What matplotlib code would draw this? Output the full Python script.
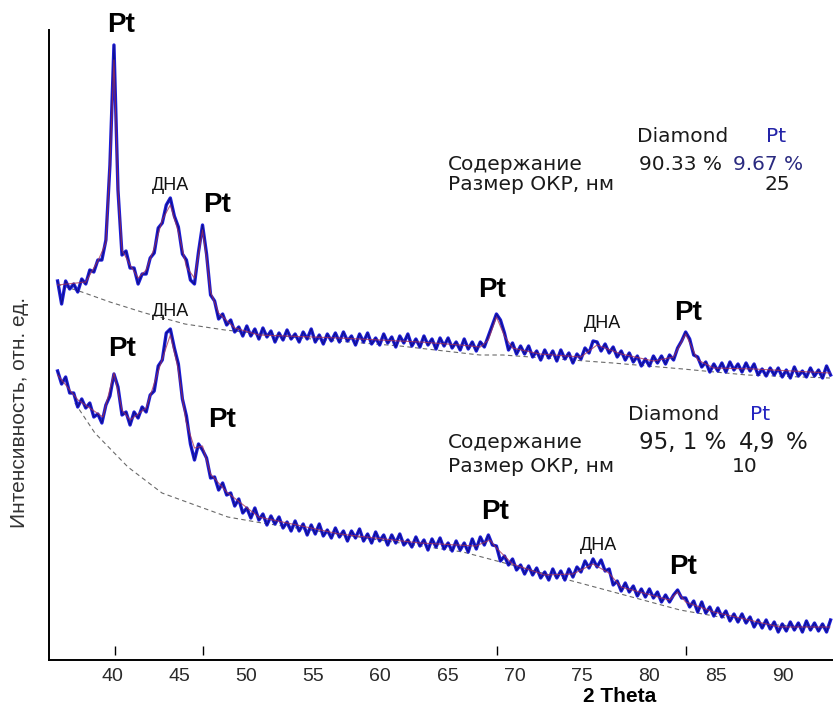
import numpy as np
import matplotlib
matplotlib.use("Agg")
import matplotlib.pyplot as plt

plt.rcParams['font.family'] = ['Liberation Sans', 'DejaVu Sans']

W, H = 833, 710

# ---- data (2 theta grid start/step, intensities in arbitrary units) ----
theta_start = 35.95
theta_step = 0.3

top_counts = [
    379, 356, 379, 371, 376, 368, 381, 376, 390, 388,
    400, 400, 420, 495, 615, 470, 405, 409, 392, 392,
    376, 386, 386, 402, 407, 432, 437, 455, 462, 444,
    433, 406, 400, 380, 376, 408, 435, 406, 365, 359,
    341, 346, 335, 340, 328, 333, 324, 334, 324, 331,
    321, 332, 323, 329, 318, 327, 320, 330, 321, 326,
    318, 328, 321, 331, 318, 325, 316, 326, 319, 327,
    318, 328, 319, 324, 315, 326, 318, 327, 316, 322,
    315, 326, 317, 323, 313, 324, 317, 326, 314, 321,
    313, 324, 315, 321, 311, 322, 314, 322, 312, 318,
    310, 321, 311, 318, 309, 318, 313, 324, 335, 346,
    340, 327, 310, 317, 306, 314, 306, 314, 303, 309,
    300, 310, 302, 309, 299, 310, 301, 307, 297, 306,
    301, 312, 307, 319, 318, 309, 316, 307, 313, 303,
    309, 300, 307, 298, 304, 294, 301, 294, 304, 297,
    304, 296, 305, 300, 312, 319, 328, 321, 305, 303,
    293, 298, 288, 296, 289, 297, 288, 298, 290, 296,
    288, 297, 289, 296, 285, 291, 284, 292, 285, 292,
    283, 290, 282, 293, 284, 289, 283, 292, 284, 290,
    282, 294, 285,
]

bottom_counts = [
    289, 276, 283, 267, 267, 253, 261, 252, 257, 243,
    246, 237, 255, 264, 286, 273, 245, 248, 235, 248,
    242, 253, 248, 265, 269, 294, 300, 327, 331, 312,
    296, 261, 244, 216, 200, 216, 210, 202, 182, 183,
    170, 177, 165, 167, 154, 161, 147, 152, 142, 152,
    140, 146, 135, 144, 136, 143, 132, 138, 129, 139,
    129, 136, 125, 135, 126, 136, 124, 130, 122, 132,
    123, 129, 119, 129, 122, 131, 119, 126, 117, 128,
    119, 125, 115, 125, 117, 126, 115, 120, 113, 123,
    114, 120, 110, 121, 113, 122, 111, 117, 109, 119,
    110, 117, 108, 121, 111, 123, 115, 125, 115, 114,
    99, 104, 95, 101, 90, 95, 86, 94, 85, 92,
    82, 88, 80, 91, 82, 89, 80, 91, 83, 93,
    88, 99, 92, 101, 93, 100, 89, 91, 75, 79,
    69, 77, 68, 74, 64, 71, 63, 71, 62, 68,
    58, 65, 58, 65, 70, 62, 62, 53, 59, 48,
    58, 47, 53, 44, 52, 43, 49, 39, 46, 38,
    46, 37, 43, 33, 40, 32, 40, 31, 38, 28,
    36, 29, 38, 30, 37, 28, 39, 30, 37, 29,
    36, 28, 40,
]

top_fit_x = [35.95, 38.05, 38.95, 39.55, 39.85, 40.15, 40.45, 40.75, 41.35, 41.95,
             42.55, 43.15, 43.75, 44.35, 44.95, 45.55, 46.15, 46.45, 46.75, 47.05,
             47.35, 47.95, 49.15, 50.95, 56.95, 62.95, 65.95, 67.45, 68.05, 68.65,
             69.25, 69.85, 71.9, 74.95, 76.15, 77.95, 80.35, 81.85, 82.75, 83.65,
             84.85, 87.85, 93.5]
top_fit_y = [375, 378, 399, 417, 495, 600, 470, 410, 395, 382,
             390, 412, 440, 455, 428, 393, 382, 405, 430, 402,
             368, 347, 332, 325, 322, 318, 315, 313, 320, 343,
             324, 312, 306, 303, 315, 306, 299, 303, 326, 300,
             292, 291, 287]

bottom_fit_x = [35.95, 37.47, 39.33, 40.15, 40.75, 41.35, 42.55, 43.43, 44.35, 44.92,
                45.51, 46.15, 46.75, 47.35, 48.55, 50.95, 56.95, 62.95, 67.12, 68.17,
                68.65, 69.85, 72.27, 74.36, 75.85, 77.03, 77.93, 81.55, 82.15, 82.75,
                84.85, 89.78, 93.5]
bottom_fit_y = [285, 260, 243, 287, 250, 240, 252, 288, 325, 292,
                239, 212, 214, 186, 168, 143, 126, 117, 114, 120,
                112, 96, 85, 86, 96, 87, 73, 60, 68, 58,
                48, 33, 33]

top_bg_x = [35.9, 37.76, 39.85, 42.46, 45.44, 48.42, 54.9, 61.46, 67.42, 69.14,
            77.33, 82.55, 87.32, 93.5]
top_bg_y = [376, 368, 358, 347, 336, 330, 321, 314, 305, 305, 297, 291, 285, 282]

bottom_bg_x = [37.24, 38.73, 41.19, 43.73, 46.18, 48.64, 51.18, 66.16, 74.87, 82.33,
               88.29, 93.5]
bottom_bg_y = [257, 227, 193, 167, 155, 143, 137, 108, 77, 50, 36, 32]

pt_reflections = [40.2, 46.8, 68.7, 82.8]
x_ticks = [40, 45, 50, 55, 60, 65, 70, 75, 80, 85, 90]

two_theta = theta_start + theta_step * np.arange(len(top_counts))

# ---- figure ----
fig = plt.figure(figsize=(W / 100, H / 100), dpi=100)
ax = fig.add_axes([49 / W, 50 / H, (W - 49) / W, 630 / H])

bg_style = dict(color='#6a6a6a', lw=0.8, ls=(0, (4, 3)))
ax.plot(top_bg_x, top_bg_y, **bg_style)
ax.plot(bottom_bg_x, bottom_bg_y, **bg_style)

blue = '#1c1cd6'
ax.plot(two_theta, top_counts, color=blue, lw=2.4)
ax.plot(two_theta, bottom_counts, color=blue, lw=2.4)
ax.plot(two_theta, top_counts, color='#0a0a60', lw=0.7, alpha=0.7)
ax.plot(two_theta, bottom_counts, color='#0a0a60', lw=0.7, alpha=0.7)

red = '#a8304f'
ax.plot(top_fit_x, top_fit_y, color=red, lw=0.8, alpha=0.75)
ax.plot(bottom_fit_x, bottom_fit_y, color=red, lw=0.8, alpha=0.75)

ax.set_xlim(35.31, 93.73)
ax.set_ylim(0, 630)

ax.vlines(pt_reflections, 0.008, 0.022, transform=ax.get_xaxis_transform(),
          color='k', lw=1)

for s in ['top', 'right']:
    ax.spines[s].set_visible(False)
for s in ['left', 'bottom']:
    ax.spines[s].set_linewidth(1.4)
    ax.spines[s].set_color('black')
ax.set_yticks([])
ax.set_xticks(x_ticks)
ax.set_xticklabels([str(t) for t in x_ticks], fontsize=14, color='#2a2a2a')
ax.tick_params(axis='x', length=0, pad=6)


def ftxt(x, y, s, **kw):
    kw.setdefault('ha', 'center')
    kw.setdefault('va', 'center')
    fig.text(x / W, 1 - y / H, s, **kw)


pt_kw = dict(fontsize=20, fontweight='bold', color='black')
dna_kw = dict(fontsize=13, color='#111111')
# top pattern labels
ftxt(121, 25, 'Pt', **pt_kw)
ftxt(170, 186, 'ДНА', **dna_kw)
ftxt(217, 205, 'Pt', **pt_kw)
ftxt(492, 290, 'Pt', **pt_kw)
ftxt(603, 323, 'ДНА', **dna_kw)
ftxt(688, 313, 'Pt', **pt_kw)
# bottom pattern labels
ftxt(171, 311, 'ДНА', **dna_kw)
ftxt(122, 349, 'Pt', **pt_kw)
ftxt(222, 420, 'Pt', **pt_kw)
ftxt(495, 512, 'Pt', **pt_kw)
ftxt(598, 545, 'ДНА', **dna_kw)
ftxt(683, 567, 'Pt', **pt_kw)

# info blocks
fam = ['DejaVu Sans']
info = dict(fontsize=14.5, color='#1a1a1a', family=fam)
ftxt(637, 137, 'Diamond', ha='left', **info)
ftxt(776, 137, 'Pt', fontsize=14.5, color='#2424a8', family=fam)
ftxt(448, 165, 'Содержание', ha='left', **info)
ftxt(639, 165, '90.33 %', ha='left', **info)
ftxt(733, 165, '9.67 %', ha='left', fontsize=14.5, color='#2a2a80', family=fam)
ftxt(448, 185, 'Размер ОКР, нм', ha='left', **info)
ftxt(777, 185, '25', **info)

ftxt(628, 415, 'Diamond', ha='left', **info)
ftxt(760, 415, 'Pt', fontsize=14.5, color='#2424c0', family=fam)
ftxt(448, 443, 'Содержание', ha='left', **info)
num_kw = dict(fontsize=16.5, color='#1a1a1a', family=fam)
ftxt(639, 443, '95, 1 %', ha='left', **num_kw)
ftxt(739, 443, '4,9', ha='left', **num_kw)
ftxt(786, 443, '%', ha='left', **num_kw)
ftxt(448, 466, 'Размер ОКР, нм', ha='left', **info)
ftxt(745, 466, '10', **info)

ftxt(20, 412, 'Интенсивность, отн. ед.', rotation=90, fontsize=15, color='#333333')
ftxt(620, 697, '2 Theta', fontsize=15, fontweight='bold', color='black')

fig.savefig('out.png', dpi=100)
